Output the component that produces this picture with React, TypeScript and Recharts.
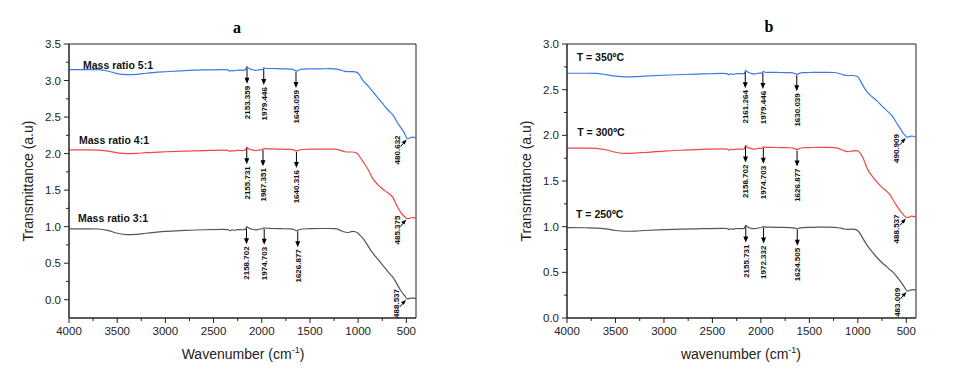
import React from 'react';
import { LineChart, Line, XAxis, YAxis, ReferenceDot, ReferenceArea } from 'recharts';

// ---------- Panel a data ----------
const wavenumbersA = [4000, 3800, 3700, 3600, 3500, 3400, 3300, 3200, 3000, 2800, 2600, 2400, 2350, 2330, 2310, 2290, 2250, 2200, 2170, 2155, 2140, 2100, 2060, 2020, 1995, 1978, 1950, 1900, 1800, 1700, 1665, 1642, 1620, 1580, 1500, 1400, 1300, 1250, 1200, 1150, 1110, 1060, 1030, 1000, 980, 950, 900, 850, 800, 750, 700, 670, 640, 600, 560, 520, 490, 470, 450, 430, 400];
const ratio51 = [3.150, 3.150, 3.148, 3.130, 3.095, 3.082, 3.085, 3.100, 3.120, 3.135, 3.145, 3.150, 3.145, 3.128, 3.140, 3.132, 3.143, 3.140, 3.145, 3.190, 3.170, 3.150, 3.138, 3.150, 3.150, 3.172, 3.165, 3.165, 3.160, 3.155, 3.145, 3.128, 3.140, 3.155, 3.160, 3.160, 3.162, 3.160, 3.150, 3.130, 3.122, 3.122, 3.118, 3.100, 3.065, 3.000, 2.930, 2.850, 2.770, 2.690, 2.610, 2.570, 2.530, 2.440, 2.360, 2.280, 2.205, 2.210, 2.222, 2.225, 2.210];
const ratio41 = [2.050, 2.050, 2.048, 2.035, 2.010, 2.000, 2.003, 2.012, 2.025, 2.035, 2.042, 2.048, 2.045, 2.030, 2.042, 2.035, 2.045, 2.042, 2.048, 2.090, 2.070, 2.050, 2.040, 2.052, 2.052, 2.072, 2.065, 2.065, 2.060, 2.058, 2.050, 2.035, 2.045, 2.056, 2.060, 2.060, 2.062, 2.060, 2.050, 2.030, 2.022, 2.022, 2.015, 1.990, 1.950, 1.890, 1.790, 1.660, 1.580, 1.520, 1.470, 1.440, 1.400, 1.290, 1.200, 1.140, 1.110, 1.112, 1.122, 1.125, 1.115];
const ratio31 = [0.970, 0.970, 0.968, 0.950, 0.910, 0.892, 0.895, 0.910, 0.935, 0.948, 0.958, 0.962, 0.960, 0.945, 0.958, 0.950, 0.960, 0.958, 0.962, 1.000, 0.985, 0.965, 0.955, 0.968, 0.968, 0.985, 0.978, 0.975, 0.972, 0.970, 0.962, 0.945, 0.955, 0.968, 0.972, 0.975, 0.975, 0.972, 0.960, 0.930, 0.920, 0.935, 0.930, 0.910, 0.880, 0.840, 0.740, 0.640, 0.560, 0.480, 0.400, 0.350, 0.310, 0.220, 0.130, 0.060, 0.012, 0.018, 0.022, 0.022, 0.015];

const peaksA51 = [2153.359, 1979.446, 1645.059];
const peaksA41 = [2155.731, 1987.351, 1640.316];
const peaksA31 = [2158.702, 1974.703, 1626.877];
const endsA = [480.632, 485.375, 488.537];
const seriesNamesA = ['Mass ratio 5:1', 'Mass ratio 4:1', 'Mass ratio 3:1'];

// ---------- Panel b data ----------
const wavenumbersB = [4000, 3800, 3700, 3600, 3500, 3400, 3300, 3200, 3000, 2800, 2600, 2400, 2350, 2330, 2310, 2290, 2250, 2200, 2170, 2158, 2140, 2100, 2060, 2020, 1995, 1975, 1950, 1900, 1800, 1700, 1655, 1628, 1605, 1570, 1500, 1400, 1300, 1250, 1200, 1150, 1110, 1060, 1030, 1000, 980, 950, 900, 850, 800, 750, 700, 670, 640, 600, 560, 530, 490, 470, 450, 430, 400];
const temp350 = [2.680, 2.680, 2.678, 2.665, 2.648, 2.640, 2.642, 2.648, 2.658, 2.666, 2.672, 2.678, 2.675, 2.662, 2.674, 2.668, 2.676, 2.674, 2.678, 2.712, 2.695, 2.678, 2.672, 2.682, 2.682, 2.698, 2.690, 2.690, 2.688, 2.686, 2.680, 2.668, 2.678, 2.686, 2.688, 2.690, 2.690, 2.688, 2.680, 2.662, 2.655, 2.655, 2.652, 2.640, 2.610, 2.550, 2.470, 2.420, 2.375, 2.320, 2.270, 2.240, 2.205, 2.135, 2.070, 2.020, 1.980, 1.985, 1.992, 1.990, 1.978];
const temp300 = [1.860, 1.860, 1.858, 1.842, 1.815, 1.802, 1.805, 1.812, 1.828, 1.838, 1.846, 1.852, 1.850, 1.836, 1.848, 1.842, 1.850, 1.848, 1.852, 1.890, 1.870, 1.855, 1.848, 1.858, 1.858, 1.875, 1.868, 1.868, 1.866, 1.864, 1.858, 1.845, 1.855, 1.864, 1.866, 1.868, 1.868, 1.866, 1.858, 1.835, 1.822, 1.828, 1.832, 1.830, 1.810, 1.760, 1.630, 1.550, 1.485, 1.430, 1.385, 1.350, 1.300, 1.230, 1.170, 1.130, 1.100, 1.105, 1.115, 1.112, 1.100];
const temp250 = [0.990, 0.988, 0.985, 0.975, 0.958, 0.950, 0.952, 0.958, 0.968, 0.974, 0.978, 0.982, 0.980, 0.968, 0.978, 0.972, 0.980, 0.978, 0.982, 1.015, 1.000, 0.982, 0.978, 0.988, 0.988, 1.002, 0.994, 0.994, 0.992, 0.990, 0.986, 0.975, 0.985, 0.990, 0.992, 0.994, 0.994, 0.992, 0.988, 0.978, 0.970, 0.972, 0.970, 0.955, 0.930, 0.875, 0.790, 0.720, 0.660, 0.605, 0.560, 0.530, 0.505, 0.455, 0.400, 0.355, 0.295, 0.300, 0.308, 0.310, 0.305];

const peaksB350 = [2161.264, 1979.446, 1630.039];
const peaksB300 = [2158.702, 1974.703, 1626.877];
const peaksB250 = [2155.731, 1972.332, 1624.505];
const endsB = [490.909, 488.537, 483.009];
const seriesNamesB = ['T = 350ºC', 'T = 300ºC', 'T = 250ºC'];

// ---------- ticks ----------
const xTicks = [4000, 3750, 3500, 3250, 3000, 2750, 2500, 2250, 2000, 1750, 1500, 1250, 1000, 750, 500];
const yTicksA = [0, 0.25, 0.5, 0.75, 1, 1.25, 1.5, 1.75, 2, 2.25, 2.5, 2.75, 3, 3.25, 3.5];
const yTicksB = [0, 0.25, 0.5, 0.75, 1, 1.25, 1.5, 1.75, 2, 2.25, 2.5, 2.75, 3];

// ---------- layout (label anchors in data units) ----------
const nameAnchorsA = [[3855, 3.205], [3896, 2.18], [3907, 1.11]];
const nameAnchorsB = [[3900, 2.85], [3894, 2.036], [3907, 1.13]];

const COLORS = ['#3a7ae4', '#f04646', '#555555'];
const AXIS = '#222';
const FONT = '"Liberation Sans", Arial, sans-serif';
const PLOT_BOTTOM = 318;

function valueAt(grid: number[], vals: number[], x: number) {
  for (let i = 0; i < grid.length - 1; i++) {
    const a = grid[i], b = grid[i + 1];
    if (x <= a && x >= b) {
      const t = (a - x) / (a - b);
      return vals[i] + (vals[i + 1] - vals[i]) * t;
    }
  }
  return vals[vals.length - 1];
}

function isMajor(v: number, step: number) {
  const q = v / step;
  return Math.abs(q - Math.round(q)) < 1e-6;
}

const XTick = (props: any) => {
  const { x, y, payload } = props;
  const major = isMajor(payload.value, 500);
  return (
    <g>
      <line x1={x} x2={x} y1={y} y2={y + (major ? 5 : 3)} stroke={AXIS} strokeWidth={1} />
      {major && (
        <text x={x} y={y + 17} textAnchor="middle" fontSize={11.5} fontFamily={FONT} fill={AXIS}>
          {payload.value}
        </text>
      )}
    </g>
  );
};

const YTick = (props: any) => {
  const { x, y, payload } = props;
  const major = isMajor(payload.value, 0.5);
  return (
    <g>
      <line x1={x} x2={x - (major ? 5 : 3)} y1={y} y2={y} stroke={AXIS} strokeWidth={1} />
      {major && (
        <text x={x - 8} y={y} dy="0.35em" textAnchor="end" fontSize={11.5} fontFamily={FONT} fill={AXIS}>
          {payload.value.toFixed(1)}
        </text>
      )}
    </g>
  );
};

const PeakArrow = ({ cx, cy, label }: any) => (
  <g>
    <line x1={cx} x2={cx} y1={cy + 1} y2={cy + 12} stroke="#000" strokeWidth={1} />
    <polygon points={`${cx - 2.5},${cy + 11} ${cx + 2.5},${cy + 11} ${cx},${cy + 17}`} fill="#000" />
    <text
      x={cx}
      y={cy + 19}
      dy="0.35em"
      textAnchor="end"
      transform={`rotate(-90, ${cx}, ${cy + 19})`}
      fontSize={8}
      fontWeight="bold"
      fontFamily={FONT}
      fill="#111"
    >
      {label}
    </text>
  </g>
);

const EndArrow = ({ cx, cy, label }: any) => {
  const top = Math.min(cy - 3, PLOT_BOTTOM - 29);
  return (
    <g>
      <line x1={cx - 7.5} y1={cy + 8} x2={cx - 4.5} y2={cy + 4.5} stroke="#000" strokeWidth={1} />
      <polygon points={`${cx - 6.5},${cy + 3.5} ${cx - 3.5},${cy + 6} ${cx - 1.5},${cy + 1}`} fill="#000" />
      <text
        x={cx - 11}
        y={top}
        dy="0.35em"
        textAnchor="end"
        transform={`rotate(-90, ${cx - 11}, ${top})`}
        fontSize={8}
        fontWeight="bold"
        fontFamily={FONT}
        fill="#111"
      >
        {label}
      </text>
    </g>
  );
};

const NameLabel = ({ cx, cy, label }: any) => (
  <text x={cx} y={cy} dy="0.35em" textAnchor="start" fontSize={10.5} fontWeight="bold" fontFamily={FONT} fill="#111">
    {label}
  </text>
);

function buildRows(grid: number[], s: number[][]) {
  return grid.map((wn, i) => ({ wn, s0: s[0][i], s1: s[1][i], s2: s[2][i] }));
}

type PanelProps = {
  width: number;
  yAxisWidth: number;
  rightMargin: number;
  grid: number[];
  series: number[][];
  peaks: number[][];
  ends: number[];
  names: string[];
  nameAnchors: number[][];
  yDomain: [number, number];
  yTicks: number[];
};

const Panel = (p: PanelProps) => {
  const rows = buildRows(p.grid, p.series);
  return (
    <LineChart
      width={p.width}
      height={378}
      data={rows}
      margin={{ top: 44, right: p.rightMargin, bottom: 30, left: 0 }}
    >
      <XAxis
        dataKey="wn"
        type="number"
        domain={[400, 4000]}
        reversed
        allowDataOverflow
        ticks={xTicks}
        interval={0}
        tickLine={false}
        tickSize={0}
        tickMargin={0}
        tick={<XTick />}
        height={30}
        axisLine={{ stroke: AXIS }}
      />
      <YAxis
        type="number"
        domain={p.yDomain}
        allowDataOverflow
        ticks={p.yTicks}
        interval={0}
        tickLine={false}
        tickSize={0}
        tickMargin={0}
        tick={<YTick />}
        width={p.yAxisWidth}
        axisLine={{ stroke: AXIS }}
      />
      <ReferenceArea
        x1={400}
        x2={4000}
        y1={p.yDomain[0]}
        y2={p.yDomain[1]}
        fill="none"
        fillOpacity={0}
        stroke={AXIS}
        strokeWidth={1}
      />
      {[0, 1, 2].map((k) => (
        <Line
          key={`l${k}`}
          dataKey={`s${k}`}
          type="monotone"
          stroke={COLORS[k]}
          strokeWidth={1.2}
          dot={false}
          activeDot={false}
          isAnimationActive={false}
        />
      ))}
      {p.peaks.map((list, k) =>
        list.map((wn) => (
          <ReferenceDot
            key={`p${k}-${wn}`}
            x={wn}
            y={valueAt(p.grid, p.series[k], wn)}
            r={0}
            ifOverflow="visible"
            shape={(sp: any) => <PeakArrow cx={sp.cx} cy={sp.cy} label={wn.toFixed(3)} />}
          />
        ))
      )}
      {p.ends.map((wn, k) => (
        <ReferenceDot
          key={`e${k}`}
          x={wn}
          y={valueAt(p.grid, p.series[k], wn)}
          r={0}
          ifOverflow="visible"
          shape={(sp: any) => <EndArrow cx={sp.cx} cy={sp.cy} label={wn.toFixed(3)} />}
        />
      ))}
      {p.names.map((name, k) => (
        <ReferenceDot
          key={`n${k}`}
          x={p.nameAnchors[k][0]}
          y={p.nameAnchors[k][1]}
          r={0}
          ifOverflow="visible"
          shape={(sp: any) => <NameLabel cx={sp.cx} cy={sp.cy} label={name} />}
        />
      ))}
    </LineChart>
  );
};

const abs = (left: number, top: number, extra: any = {}) => ({
  position: 'absolute' as const,
  left,
  top,
  transform: 'translate(-50%, -50%)',
  whiteSpace: 'nowrap' as const,
  ...extra,
});

export default function App() {
  const titleStyle = { fontFamily: '"Liberation Serif", "Times New Roman", serif', fontWeight: 'bold', fontSize: 16, color: '#000' };
  const axisLabelStyle = { fontFamily: FONT, fontSize: 14, color: '#222' };
  return (
    <div style={{ position: 'absolute', left: 0, top: 0, width: 962, height: 378, background: '#fff', overflow: 'hidden' }}>
      <div style={{ position: 'absolute', left: 0, top: 0 }}>
        <Panel
          width={480}
          yAxisWidth={69}
          rightMargin={64}
          grid={wavenumbersA}
          series={[ratio51, ratio41, ratio31]}
          peaks={[peaksA51, peaksA41, peaksA31]}
          ends={endsA}
          names={seriesNamesA}
          nameAnchors={nameAnchorsA}
          yDomain={[-0.25, 3.5]}
          yTicks={yTicksA}
        />
      </div>
      <div style={{ position: 'absolute', left: 480, top: 0 }}>
        <Panel
          width={482}
          yAxisWidth={87}
          rightMargin={46}
          grid={wavenumbersB}
          series={[temp350, temp300, temp250]}
          peaks={[peaksB350, peaksB300, peaksB250]}
          ends={endsB}
          names={seriesNamesB}
          nameAnchors={nameAnchorsB}
          yDomain={[0, 3]}
          yTicks={yTicksB}
        />
      </div>
      <div style={abs(237, 28, titleStyle)}>a</div>
      <div style={abs(769, 27, titleStyle)}>b</div>
      <div style={abs(28, 181, { ...axisLabelStyle, transform: 'translate(-50%, -50%) rotate(-90deg)' })}>Transmittance (a.u)</div>
      <div style={abs(526, 181, { ...axisLabelStyle, transform: 'translate(-50%, -50%) rotate(-90deg)' })}>Transmittance (a.u)</div>
      <div style={abs(243, 354, axisLabelStyle)}>
        Wavenumber (cm<sup style={{ fontSize: 9, verticalAlign: 'super', lineHeight: 0 }}>-1</sup>)
      </div>
      <div style={abs(741, 354, axisLabelStyle)}>
        wavenumber (cm<sup style={{ fontSize: 9, verticalAlign: 'super', lineHeight: 0 }}>-1</sup>)
      </div>
    </div>
  );
}
